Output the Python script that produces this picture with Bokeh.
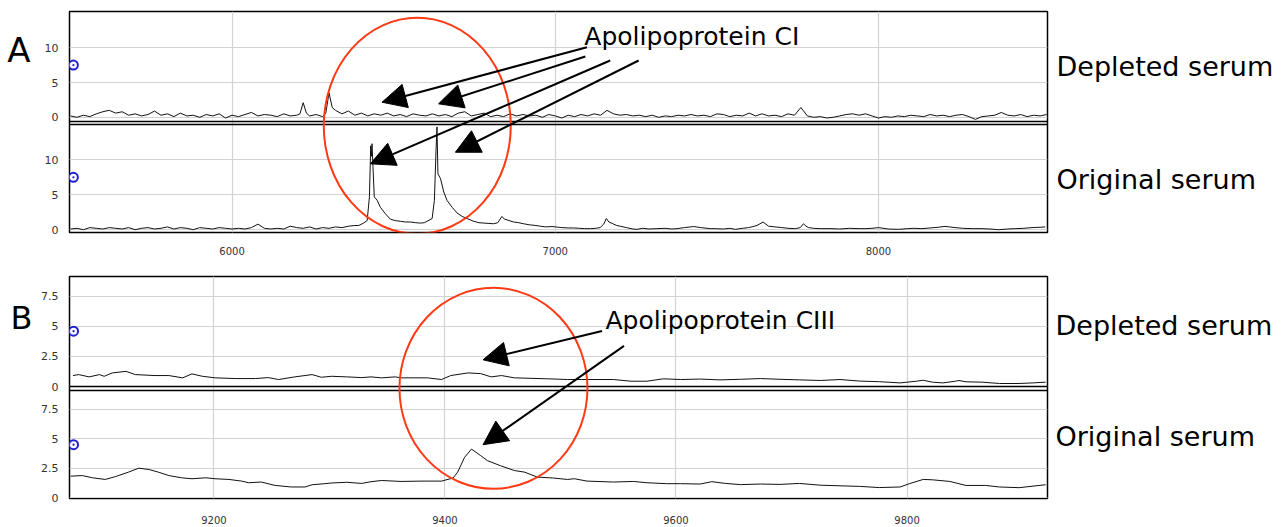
from bokeh.plotting import figure
from bokeh.models import Range1d, FixedTicker, Label, Arrow, NormalHead, LinearAxis
from bokeh.layouts import column
from bokeh.embed import file_html
from bokeh.resources import INLINE

# ---------------- Panel A data (m/z vs intensity) ----------------
A_dep_mz = [*range(5500, 6201, 20), 6210, 6220, 6230, 6240, 6260, 6280, 6290, 6300, 6310,
            *range(6320, 8521, 20)]
A_dep_int = [0.2, 0.0, 0.3, 0.1, 0.5, 0.8,
             1.0, 0.6, 0.8, 0.3, 0.5, 0.2, 0.4,
             0.9, 0.3, 0.5, 0.1, 0.6, 0.2, 0.3,
             0.0, 0.4, 0.2, 0.5, -0.1, 0.3,
             0.1, 0.4, 0.7, 0.2, 0.4,
             0.3, 0.1, 0.5, 0.2, 0.3,
             0.5, 2.1, 0.6, 0.2, 0.4, 0.1, 0.6, 3.5, 1.4,
             1.0, 0.5, 0.9, 0.3, 0.6,
             0.2, 0.5, 0.3, 0.6, 0.2,
             0.4, 0.1, 0.5, 0.3, 0.2,
             0.5, 0.2, 0.4, 0.1, 0.6,
             0.8, 0.2, 0.4, 0.6, 0.1,
             0.3, 0.1, 0.5, 0.2, 0.4,
             0.2, 0.3, 0.0, 0.4, 0.2,
             -0.1, 0.3, 0.1, 0.4, 0.2,
             0.5, 0.3, 1.0, 0.5, 0.3,
             0.4, 0.2, 0.3, 0.1, 0.3,
             0.0, 0.2, 0.1, 0.3, 0.2,
             0.4, 0.2, 0.3, 0.1, 0.5,
             0.4, 0.1, 0.3, 0.2, 0.6,
             0.2, 0.5, 0.2, 0.3, 0.1,
             0.5, 0.3, 1.4, 0.2, 0.0,
             0.1, -0.1, 0.0, 0.2, 0.4,
             0.5, 0.3, 0.5, 0.2, -0.1,
             0.1, 0.0, 0.2, 0.1, 0.3,
             0.2, 0.1, 0.4, 0.2, 0.3,
             0.1, 0.3, 0.4, 0.1, -0.3,
             0.1, 0.2, 0.3, 0.7, 0.3,
             0.2, 0.4, 0.1, 0.3, 0.2, 0.4]

A_orig_mz = [*range(5500, 6361, 20),
             6380, 6392, 6405, 6418, 6425, 6429, 6431, 6433, 6436, 6440,
             6449, 6459, 6474, 6490, 6505, 6521, 6537, 6552, 6568, 6583,
             6595, 6603, 6619, 6626, 6631, 6634, 6637, 6645, 6655, 6665,
             6681, 6696, 6712, 6727, 6748, 6764, 6779, 6795, 6809, 6822,
             6835, 6843, 6851, 6871, 6887, 6902, 6920, 6940, 6954, 6970,
             6990, 7006, 7020, 7040, 7057, 7075, 7090, 7109, 7125, 7139,
             7150, 7158, 7166, 7176, 7190, 7201, 7220, 7240, 7253, 7270,
             7290, 7315, 7340, 7360, 7377, 7400, 7428, 7450, 7480, 7495,
             7520, 7540, 7557, 7580, 7598, 7612, 7624, 7643, 7660, 7680,
             7701, 7720, 7743, 7758, 7768, 7776, 7784, 7800, 7820, 7856,
             7880, 7910, 7940, 7959, 7980, 8000, 8030, 8062, 8090, 8110,
             8134, 8160, 8185, 8206, 8220, 8237, 8260, 8290, 8320, 8345,
             8371, 8400, 8423, 8450, 8475, 8500, 8516]
A_orig_int = [0.1, 0.2, 0.0, 0.3, 0.2, 0.1,
              0.3, 0.2, 0.1, 0.3, 0.0,
              0.2, 0.3, 0.1, 0.2, 0.4,
              0.1, 0.3, 0.2, 0.0, 0.3,
              0.2, 0.1, 0.3, 0.2, 0.1,
              0.2, 0.1, 0.3, 0.8, 0.2,
              0.1, 0.2, 0.1, 0.5, 0.3,
              0.2, 0.4, 0.1, 0.3, 0.2,
              0.4, 0.3, 0.5,
              0.6, 0.6, 0.9, 1.3, 4.7, 12.0, 10.5, 12.3, 9.0, 4.7,
              4.2, 3.2, 2.3, 1.5, 1.3, 1.2, 1.1, 1.1, 1.0, 0.95,
              1.0, 1.2, 1.6, 4.2, 11.3, 14.7, 8.0, 7.3, 5.4, 4.2,
              3.2, 2.4, 1.9, 1.6, 1.2, 1.0, 0.95, 0.9, 0.85, 1.0,
              1.9, 1.5, 1.4, 1.1, 1.0, 0.85, 0.7, 0.6, 0.5, 0.4,
              0.45, 0.37, 0.3, 0.25, 0.25, 0.2, 0.15, 0.15, 0.2, 0.3,
              0.8, 1.6, 1.1, 0.9, 0.6, 0.5, 0.3, 0.1, 0.05, 0.2,
              0.1, 0.15, 0.2, 0.1, 0.15, 0.3, 0.45, 0.3, 0.15, 0.15,
              0.1, 0.2, 0.05, 0.2, 0.3, 0.45, 0.6, 1.1, 0.5, 0.4,
              0.3, 0.2, 0.15, 0.3, 0.85, 0.5, 0.3, 0.2, 0.15, 0.15,
              0.1, 0.2, 0.15, 0.15, 0.2, 0.3, 0.1, 0.05, 0.15, 0.2,
              0.15, 0.25, 0.35, 0.47, 0.4, 0.3, 0.2, 0.15, 0.15, 0.1,
              0.0, 0.1, 0.15, 0.2, 0.3, 0.35, 0.4]

# ---------------- Panel B data ----------------
B_dep_mz = [9078, 9083, 9092, 9101, 9105, 9112, 9124, 9132, 9149, 9161,
            9173, 9181, 9190, 9201, 9219, 9236, 9247, 9256, 9270, 9285,
            9293, 9302, 9315, 9328, 9336, 9345, 9357, 9362, 9374, 9385,
            9397, 9405, 9420, 9431, 9440, 9449, 9460, 9489, 9506, 9518,
            9546, 9561, 9575, 9589, 9604, 9621, 9638, 9656, 9673, 9690,
            9707, 9725, 9742, 9759, 9776, 9794, 9808, 9814, 9822, 9831,
            9842, 9845, 9851, 9865, 9880, 9897, 9909, 9920]
B_dep_int = [0.91, 0.99, 0.80, 0.99, 0.85, 1.13, 1.26, 0.99, 0.91, 0.91,
             0.72, 1.05, 0.85, 0.72, 0.66, 0.66, 0.74, 0.58, 0.80, 0.99,
             0.77, 0.85, 0.80, 0.74, 0.80, 0.72, 0.80, 0.72, 0.72, 0.72,
             0.58, 0.91, 1.13, 1.07, 0.80, 0.91, 0.72, 0.64, 0.58, 0.58,
             0.58, 0.44, 0.44, 0.64, 0.58, 0.62, 0.55, 0.60, 0.66, 0.60,
             0.55, 0.50, 0.58, 0.45, 0.40, 0.30, 0.44, 0.52, 0.36, 0.30,
             0.44, 0.50, 0.39, 0.36, 0.25, 0.25, 0.30, 0.36]
B_orig_mz = [9076, 9086, 9095, 9106, 9115, 9126, 9135, 9144, 9152, 9161,
             9172, 9181, 9193, 9201, 9213, 9224, 9230, 9241, 9253, 9267,
             9279, 9285, 9296, 9302, 9315, 9328, 9336, 9345, 9362, 9380,
             9397, 9407, 9411, 9417, 9423, 9431, 9437, 9448, 9460, 9469,
             9480, 9494, 9506, 9512, 9523, 9546, 9563, 9575, 9592, 9604,
             9621, 9631, 9643, 9656, 9673, 9690, 9707, 9725, 9742, 9759,
             9776, 9794, 9802, 9814, 9822, 9837, 9851, 9868, 9880, 9897,
             9920]
B_orig_int = [1.82, 1.87, 1.68, 1.54, 1.79, 2.16, 2.50, 2.38, 2.16, 1.87,
              1.68, 1.60, 1.68, 1.60, 1.54, 1.40, 1.26, 1.32, 1.03, 0.90,
              0.90, 1.09, 1.18, 1.24, 1.30, 1.20, 1.35, 1.45, 1.37, 1.40,
              1.40, 1.66, 2.16, 3.42, 4.12, 3.56, 3.13, 2.71, 2.30, 2.16,
              1.74, 1.66, 1.54, 1.60, 1.40, 1.32, 1.37, 1.26, 1.18, 1.18,
              1.15, 1.35, 1.20, 1.10, 1.15, 1.12, 1.20, 1.05, 1.00, 0.95,
              0.85, 0.90, 1.18, 1.54, 1.51, 1.37, 1.03, 1.03, 0.90, 0.84,
              1.09]

assert len(A_dep_mz) == len(A_dep_int)
assert len(A_orig_mz) == len(A_orig_int)
assert len(B_dep_mz) == len(B_dep_int)
assert len(B_orig_mz) == len(B_orig_int)

A_x_ticks = [6000, 7000, 8000]
A_y_ticks = [0, 5, 10]
B_x_ticks = [9200, 9400, 9600, 9800]
B_y_ticks = [0, 2.5, 5, 7.5]
series_names = ["Depleted serum", "Original serum"]
panel_names = ["A", "B"]

A_marker_level = [7.5, 7.5]      # blue reference markers (depleted, original)
B_marker_level = [4.6, 4.5]

FONT = "DejaVu Sans"
RED = "#ff3a14"
W = 1286


def stacked(lo, hi, top_frac, bot_frac):
    """Range so that [lo, hi] occupies the given vertical band of the frame."""
    span = (hi - lo) / (bot_frac - top_frac)
    end = hi + top_frac * span
    return end - span, end


def text_axis(ticks, texts, size, standoff):
    return LinearAxis(ticker=FixedTicker(ticks=ticks),
                      major_label_overrides=dict(zip(ticks, texts)),
                      axis_line_color=None, major_tick_line_color=None,
                      minor_tick_line_color=None, major_label_text_font=FONT,
                      major_label_text_font_size=size, major_label_text_color="black",
                      major_label_standoff=standoff)


def panel(xr, dep_lims, orig_lims, dep_band, orig_band, height, borders,
          x_ticks, y_ticks, dep, orig, marker_levels, marker_x):
    d0, d1 = stacked(*dep_lims, *dep_band)
    o0, o1 = stacked(*orig_lims, *orig_band)
    left, right, top, bottom = borders
    p = figure(width=W, height=height, x_range=Range1d(*xr), y_range=Range1d(d0, d1),
               output_backend="svg", toolbar_location=None,
               min_border_left=left, min_border_right=right,
               min_border_top=top, min_border_bottom=bottom)
    p.extra_y_ranges = {"orig": Range1d(o0, o1)}
    p.outline_line_color = "black"
    p.outline_line_width = 1.5
    p.background_fill_color = "white"
    p.border_fill_color = "white"

    # y ticks of both stacked sub-plots on a single axis
    pos, labels = [], {}
    for v in y_ticks:
        pos.append(float(v)); labels[float(v)] = f"{v:g}"
    for v in y_ticks:
        q = d0 + (v - o0) / (o1 - o0) * (d1 - d0)
        pos.append(q); labels[q] = f"{v:g}"
    p.yaxis.ticker = FixedTicker(ticks=pos)
    p.yaxis.major_label_overrides = labels
    p.ygrid.ticker = FixedTicker(ticks=pos)
    p.xaxis.ticker = FixedTicker(ticks=x_ticks)
    p.xgrid.ticker = FixedTicker(ticks=x_ticks)
    for ax in (p.xaxis, p.yaxis):
        ax.axis_line_color = None
        ax.major_tick_line_color = None
        ax.minor_tick_line_color = None
        ax.major_label_text_font = FONT
        ax.major_label_text_color = "#333333"
    p.yaxis.major_label_text_font_size = "11px"
    p.yaxis.major_label_standoff = 5
    p.xaxis.major_label_text_font_size = "10px"
    p.grid.grid_line_color = "#d2d2d2"
    p.grid.grid_line_width = 1.2

    p.line(dep[0], dep[1], line_color="#111111", line_width=1)
    p.line(orig[0], orig[1], line_color="#111111", line_width=1, y_range_name="orig")

    # separator between the two stacked plots
    p.hspan(y=[dep_lims[0]], line_color="black", line_width=1.5)
    p.hspan(y=[orig_lims[1]], line_color="black", line_width=1.5, y_range_name="orig")

    p.scatter(x=[marker_x], y=[marker_levels[0]], marker="circle_dot", size=9,
              line_color="#1f1fd0", fill_color="white", line_width=2)
    p.scatter(x=[marker_x], y=[marker_levels[1]], marker="circle_dot", size=9,
              line_color="#1f1fd0", fill_color="white", line_width=2, y_range_name="orig")
    return p


HEAD = 24

pA = panel((5497, 8523), (-0.6, 15.2), (-0.4, 15.05), (0.0, 0.4977), (0.5113, 1.0),
           262, (69, 239, 11, 30), A_x_ticks, A_y_ticks,
           (A_dep_mz, A_dep_int), (A_orig_mz, A_orig_int), A_marker_level, 5509)
pA.xaxis.major_label_standoff = 8
pA.add_layout(text_axis([9.74], panel_names[:1], "34px", 5), "left")
pA.add_layout(text_axis([7.3, -8.98], series_names, "27px", 3), "right")

pB = panel((9075, 9921.6), (0.0, 9.15), (-0.08, 9.13), (0.0, 0.4955), (0.5121, 1.0),
           264, (67, 238, 14, 26), B_x_ticks, B_y_ticks,
           (B_dep_mz, B_dep_int), (B_orig_mz, B_orig_int), B_marker_level, 9078.5)
pB.xaxis.major_label_standoff = 11
pB.add_layout(text_axis([5.69], panel_names[1:], "32px", 0), "left")
pB.add_layout(text_axis([5.11, -4.18], series_names, "27px", 2), "right")

# ---------------- annotations: panel A ----------------
pA.ellipse(x=[6573], y=[-1.22], width=[187], height=[216], width_units="screen",
           height_units="screen", fill_color=None, line_color=RED, line_width=2)
for xs, ys, xe, ye in [(7098, 10.07, 6464, 2.17), (7093, 8.73, 6639, 1.94),
                       (7170, 8.16, 6428, -6.68), (7258, 8.16, 6691, -5.02)]:
    pA.add_layout(Arrow(end=NormalHead(size=HEAD, fill_color="black", line_color="black"),
                        x_start=xs, y_start=ys, x_end=xe, y_end=ye,
                        line_width=2, line_color="black"))
pA.add_layout(Label(x=7090, y=11.6, text="Apolipoprotein CI", text_font=FONT,
                    text_font_size="25px", text_baseline="alphabetic", text_color="black"))

# ---------------- annotations: panel B ----------------
pB.ellipse(x=[9442], y=[-0.15], width=[188], height=[201], width_units="screen",
           height_units="screen", fill_color=None, line_color=RED, line_width=2)
for xs, ys, xe, ye in [(9536, 4.62, 9433, 2.22), (9555, 3.38, 9433, -4.84)]:
    pB.add_layout(Arrow(end=NormalHead(size=HEAD, fill_color="black", line_color="black"),
                        x_start=xs, y_start=ys, x_end=xe, y_end=ye,
                        line_width=2, line_color="black"))
pB.add_layout(Label(x=9539, y=5.5, text="Apolipoprotein CIII", text_font=FONT,
                    text_font_size="25px", text_baseline="alphabetic", text_color="black"))

layout = column(pA, pB, spacing=0)
open("out.html", "w").write(file_html(layout, INLINE))
